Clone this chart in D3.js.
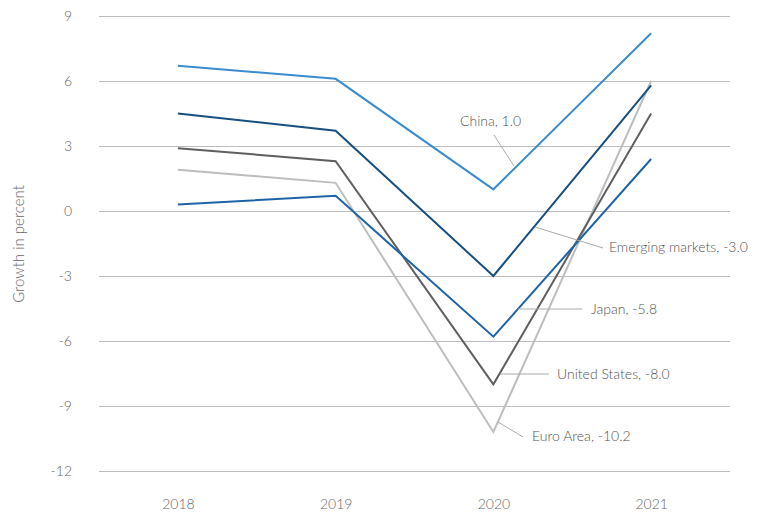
<!DOCTYPE html>
<html>
<head>
<meta charset="utf-8">
<script src="https://cdn.jsdelivr.net/npm/d3@7"></script>
<style>
  html, body { margin: 0; padding: 0; background: #fff; }
  svg text { font-family: Lato, "Open Sans", sans-serif; font-weight: 300; fill: #555; }
</style>
</head>
<body>
<svg id="chart" width="761" height="521"></svg>
<script>
const years = ["2018", "2019", "2020", "2021"];
const yTicks = [9, 6, 3, 0, -3, -6, -9, -12];
const china = [6.7, 6.1, 1.0, 8.2];
const emerging = [4.5, 3.7, -3.0, 5.8];
const japan = [0.3, 0.7, -5.8, 2.4];
const unitedStates = [2.9, 2.3, -8.0, 4.5];
const euroArea = [1.9, 1.3, -10.2, 6.0];
const yTitle = "Growth in percent";

const series = [
  { name: "Euro Area", values: euroArea, color: "#bdbdbd" },
  { name: "United States", values: unitedStates, color: "#5f5f5f" },
  { name: "Japan", values: japan, color: "#1f63a6" },
  { name: "Emerging markets", values: emerging, color: "#174f7f" },
  { name: "China", values: china, color: "#3a8ccf" }
];

const svg = d3.select("#chart");
const mLeft = 99, mRight = 730, mTop = 16, mBottom = 471;
const hyphen = s => s.replace("\u2212", "-");

const x = d3.scalePoint().domain(years).range([mLeft, mRight]).padding(0.5);
const y = d3.scaleLinear().domain([-12, 9]).range([mBottom, mTop]);

const yAxis = d3.axisLeft(y).tickValues(yTicks).tickSize(-(mRight - mLeft)).tickPadding(27)
  .tickFormat(d => hyphen(d3.format("d")(d)));
const gy = svg.append("g").attr("transform", `translate(${mLeft},0)`).call(yAxis);
gy.select(".domain").remove();
gy.selectAll(".tick line").attr("stroke", "#bdbdbd").attr("stroke-width", 1);
gy.selectAll(".tick text").attr("font-size", 14).style("fill", "#666");

const xAxis = d3.axisBottom(x).tickSize(0).tickPadding(28);
const gx = svg.append("g").attr("transform", `translate(0,${mBottom})`).call(xAxis);
gx.select(".domain").remove();
gx.selectAll(".tick text").attr("font-size", 14).style("fill", "#666");

svg.append("text")
  .attr("transform", `translate(24,${244}) rotate(-90)`)
  .attr("text-anchor", "middle")
  .attr("font-size", 15)
  .style("fill", "#666")
  .text(yTitle);

const line = d3.line().x((d, i) => x(years[i])).y(d => y(d));
svg.append("g").selectAll("path").data(series).join("path")
  .attr("d", d => line(d.values))
  .attr("fill", "none")
  .attr("stroke", d => d.color)
  .attr("stroke-width", 2);

const annotations = [
  { name: "China", value: china[2], lx1: 494, ly1: 135, lx2: 514, ly2: 166, tx: 460, ty: 121 },
  { name: "Emerging markets", value: emerging[2], lx1: 535, ly1: 227, lx2: 603, ly2: 248, tx: 609, ty: 247 },
  { name: "Japan", value: japan[2], lx1: 518, ly1: 309, lx2: 582, ly2: 309, tx: 591, ty: 309 },
  { name: "United States", value: unitedStates[2], lx1: 500, ly1: 374, lx2: 549, ly2: 374, tx: 557, ty: 374 },
  { name: "Euro Area", value: euroArea[2], lx1: 498, ly1: 422, lx2: 523, ly2: 437, tx: 532, ty: 436 }
];
const ga = svg.append("g");
ga.selectAll("line").data(annotations).join("line")
  .attr("x1", d => d.lx1).attr("y1", d => d.ly1)
  .attr("x2", d => d.lx2).attr("y2", d => d.ly2)
  .attr("stroke", "#aaa").attr("stroke-width", 1);
ga.selectAll("text").data(annotations).join("text")
  .attr("x", d => d.tx).attr("y", d => d.ty)
  .attr("dy", "0.35em")
  .attr("font-size", 14)
  .style("fill", "#555")
  .text(d => `${d.name}, ${hyphen(d3.format(".1f")(d.value))}`);
</script>
</body>
</html>
